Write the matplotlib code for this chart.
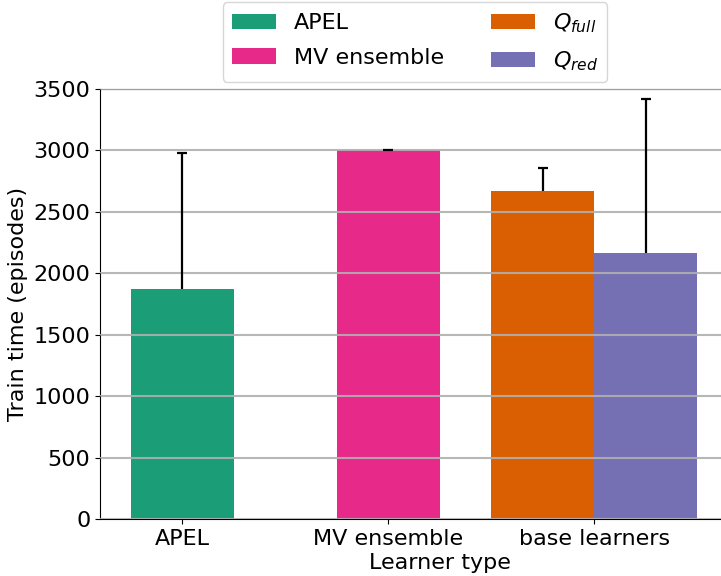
import matplotlib
matplotlib.use("Agg")
import matplotlib.pyplot as plt
import numpy as np

groups = ["APEL", "MV ensemble", "base learners"]
series_labels = ["APEL", "MV ensemble", r"$Q_{full}$", r"$Q_{red}$"]
series_colors = ["#1b9e77", "#e7298a", "#d95f02", "#7570b3"]
# mean training time and upper error per learner
means = [1870, 3000, 2670, 2165]
upper_err = [1110, 5, 185, 1250]
group_index = [0, 1, 2, 2]
offsets = [0.0, 0.0, -0.25, 0.25]
yticks = [0, 500, 1000, 1500, 2000, 2500, 3000, 3500]

plt.rcParams["font.size"] = 16
plt.rcParams["font.family"] = "DejaVu Sans"

fig = plt.figure(figsize=(7.21, 5.76), dpi=100)
W, H = 721, 576
left_px, right_px = 100, 780
top_px, bottom_px = 89, 519
ax = fig.add_axes([left_px / W, 1 - bottom_px / H,
                   (right_px - left_px) / W, (bottom_px - top_px) / H])

width = 0.5
handles = []
for i in range(len(means)):
    x = group_index[i] + offsets[i]
    b = ax.bar(x, means[i], width=width, color=series_colors[i],
               label=series_labels[i], zorder=1)
    handles.append(b)
    # upper error whisker with a single cap
    ax.vlines(x, means[i], means[i] + upper_err[i], color="black",
              linewidth=1.6, zorder=3)
    ax.plot([x], [means[i] + upper_err[i]], marker="_", markersize=7,
            markeredgewidth=1.6, color="black", zorder=3)

ax.set_xticks(range(len(groups)))
ax.set_xticklabels(groups)
ax.set_yticks(yticks)
ax.set_xlim(-0.4, -0.4 + (right_px - left_px) / 206)
ax.set_ylim(0, 3500)
ax.yaxis.grid(True, color="#b0b0b0", linewidth=1.5, alpha=0.9, zorder=2)
ax.set_axisbelow(False)
ax.set_xlabel("Learner type", labelpad=3)
ax.set_ylabel("Train time (episodes)")

fig.legend(handles=handles, labels=series_labels, ncol=2, loc="upper center",
           bbox_to_anchor=(415 / W, 1.0), fontsize=16, columnspacing=2.1,
           handlelength=2.0, labelspacing=0.65, borderaxespad=0.1)

fig.savefig("out.png", dpi=100)
